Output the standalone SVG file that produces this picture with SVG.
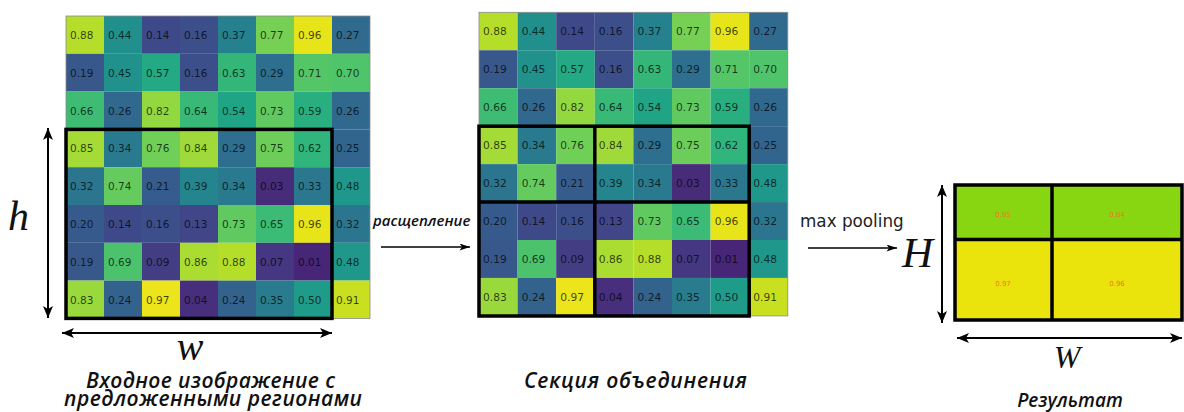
<svg xmlns="http://www.w3.org/2000/svg" xmlns:xlink="http://www.w3.org/1999/xlink" width="1184" height="412" viewBox="0 0 1184 412">
  <style>
    .cell text { font-family: "DejaVu Sans", sans-serif; font-size: 10.5px; fill: #000; fill-opacity: 0.72; }
    .frame { fill: none; stroke: #8a8a8a; stroke-width: 0.8; }
    .roi { fill: none; stroke: #000; stroke-width: 3.5; }
    .dim { stroke: #000; stroke-width: 2; fill: none; }
    .flow { stroke: #000; stroke-width: 1.6; fill: none; }
    .math { font-family: "Liberation Serif", "DejaVu Serif", serif; font-style: italic; fill: #111; }
    .caption { font-family: "Open Sans", "DejaVu Sans", sans-serif; font-style: italic; font-weight: 600; font-size: 21px; fill: #111; }
    .step { font-family: "Open Sans", "DejaVu Sans", sans-serif; font-style: italic; font-weight: 600; font-size: 15px; fill: #111; }
    .op { font-family: "DejaVu Sans", sans-serif; font-size: 16.8px; fill: #222; }
    .val { font-family: "DejaVu Sans", sans-serif; font-size: 7px; fill: #f07818; text-anchor: middle; }
    .v01{fill:#482677}.v03{fill:#472c7a}.v04{fill:#472f7d}.v07{fill:#453781}.v09{fill:#433d84}
    .v13{fill:#404688}.v14{fill:#3e4989}.v16{fill:#3c4f8a}.v19{fill:#38588c}.v20{fill:#375a8c}
    .v21{fill:#365c8d}.v24{fill:#33638d}.v25{fill:#32658e}.v26{fill:#31688e}.v27{fill:#306a8e}
    .v29{fill:#2e6e8e}.v32{fill:#2b758e}.v33{fill:#2a778e}.v34{fill:#297a8e}.v35{fill:#287c8e}
    .v37{fill:#26818e}.v39{fill:#25858e}.v44{fill:#21908d}.v45{fill:#21918c}.v48{fill:#1f988b}
    .v50{fill:#1f9c89}.v54{fill:#20a486}.v57{fill:#23a983}.v59{fill:#29af7f}.v62{fill:#30b57c}
    .v63{fill:#34b679}.v64{fill:#38b977}.v65{fill:#3bbb75}.v66{fill:#3fbc73}.v69{fill:#4cc26c}
    .v70{fill:#50c46a}.v71{fill:#55c667}.v73{fill:#60ca60}.v74{fill:#65cb5e}.v75{fill:#6ccd5a}
    .v76{fill:#70cf57}.v77{fill:#75d054}.v82{fill:#94d840}.v83{fill:#9ad93c}.v84{fill:#9fda3a}
    .v85{fill:#a5db36}.v86{fill:#aadc32}.v88{fill:#b5de2b}.v91{fill:#c8e020}.v96{fill:#e7e419}
    .v97{fill:#ece51b}
  </style>
  <defs>
    <marker id="head" viewBox="0 0 12 10" refX="12" refY="5" markerWidth="12" markerHeight="10" markerUnits="userSpaceOnUse" orient="auto-start-reverse">
      <path d="M0,0 L12,5 L0,10 L3,5 Z" fill="#000"/>
    </marker>
    <marker id="head-sm" viewBox="0 0 12 8" refX="12" refY="4" markerWidth="11" markerHeight="7" markerUnits="userSpaceOnUse" orient="auto">
      <path d="M0,0 L12,4 L0,8 L3,4 Z" fill="#000"/>
    </marker>
    <!-- 8x8 heat map, cell 38 x 37.8 -->
    <g id="heatmap" class="cell">
      <g>
        <rect class="v88" x="0" y="0" width="38" height="37.8"/><rect class="v44" x="38" y="0" width="38" height="37.8"/><rect class="v14" x="76" y="0" width="38" height="37.8"/><rect class="v16" x="114" y="0" width="38" height="37.8"/><rect class="v37" x="152" y="0" width="38" height="37.8"/><rect class="v77" x="190" y="0" width="38" height="37.8"/><rect class="v96" x="228" y="0" width="38" height="37.8"/><rect class="v27" x="266" y="0" width="38" height="37.8"/>
        <rect class="v19" x="0" y="37.8" width="38" height="37.8"/><rect class="v45" x="38" y="37.8" width="38" height="37.8"/><rect class="v57" x="76" y="37.8" width="38" height="37.8"/><rect class="v16" x="114" y="37.8" width="38" height="37.8"/><rect class="v63" x="152" y="37.8" width="38" height="37.8"/><rect class="v29" x="190" y="37.8" width="38" height="37.8"/><rect class="v71" x="228" y="37.8" width="38" height="37.8"/><rect class="v70" x="266" y="37.8" width="38" height="37.8"/>
        <rect class="v66" x="0" y="75.6" width="38" height="37.8"/><rect class="v26" x="38" y="75.6" width="38" height="37.8"/><rect class="v82" x="76" y="75.6" width="38" height="37.8"/><rect class="v64" x="114" y="75.6" width="38" height="37.8"/><rect class="v54" x="152" y="75.6" width="38" height="37.8"/><rect class="v73" x="190" y="75.6" width="38" height="37.8"/><rect class="v59" x="228" y="75.6" width="38" height="37.8"/><rect class="v26" x="266" y="75.6" width="38" height="37.8"/>
        <rect class="v85" x="0" y="113.4" width="38" height="37.8"/><rect class="v34" x="38" y="113.4" width="38" height="37.8"/><rect class="v76" x="76" y="113.4" width="38" height="37.8"/><rect class="v84" x="114" y="113.4" width="38" height="37.8"/><rect class="v29" x="152" y="113.4" width="38" height="37.8"/><rect class="v75" x="190" y="113.4" width="38" height="37.8"/><rect class="v62" x="228" y="113.4" width="38" height="37.8"/><rect class="v25" x="266" y="113.4" width="38" height="37.8"/>
        <rect class="v32" x="0" y="151.2" width="38" height="37.8"/><rect class="v74" x="38" y="151.2" width="38" height="37.8"/><rect class="v21" x="76" y="151.2" width="38" height="37.8"/><rect class="v39" x="114" y="151.2" width="38" height="37.8"/><rect class="v34" x="152" y="151.2" width="38" height="37.8"/><rect class="v03" x="190" y="151.2" width="38" height="37.8"/><rect class="v33" x="228" y="151.2" width="38" height="37.8"/><rect class="v48" x="266" y="151.2" width="38" height="37.8"/>
        <rect class="v20" x="0" y="189" width="38" height="37.8"/><rect class="v14" x="38" y="189" width="38" height="37.8"/><rect class="v16" x="76" y="189" width="38" height="37.8"/><rect class="v13" x="114" y="189" width="38" height="37.8"/><rect class="v73" x="152" y="189" width="38" height="37.8"/><rect class="v65" x="190" y="189" width="38" height="37.8"/><rect class="v96" x="228" y="189" width="38" height="37.8"/><rect class="v32" x="266" y="189" width="38" height="37.8"/>
        <rect class="v19" x="0" y="226.8" width="38" height="37.8"/><rect class="v69" x="38" y="226.8" width="38" height="37.8"/><rect class="v09" x="76" y="226.8" width="38" height="37.8"/><rect class="v86" x="114" y="226.8" width="38" height="37.8"/><rect class="v88" x="152" y="226.8" width="38" height="37.8"/><rect class="v07" x="190" y="226.8" width="38" height="37.8"/><rect class="v01" x="228" y="226.8" width="38" height="37.8"/><rect class="v48" x="266" y="226.8" width="38" height="37.8"/>
        <rect class="v83" x="0" y="264.6" width="38" height="37.8"/><rect class="v24" x="38" y="264.6" width="38" height="37.8"/><rect class="v97" x="76" y="264.6" width="38" height="37.8"/><rect class="v04" x="114" y="264.6" width="38" height="37.8"/><rect class="v24" x="152" y="264.6" width="38" height="37.8"/><rect class="v35" x="190" y="264.6" width="38" height="37.8"/><rect class="v50" x="228" y="264.6" width="38" height="37.8"/><rect class="v91" x="266" y="264.6" width="38" height="37.8"/>
      </g>
      <g>
        <text x="4" y="23">0.88</text><text x="42" y="23">0.44</text><text x="80" y="23">0.14</text><text x="118" y="23">0.16</text><text x="156" y="23">0.37</text><text x="194" y="23">0.77</text><text x="232" y="23">0.96</text><text x="270" y="23">0.27</text>
        <text x="4" y="60.8">0.19</text><text x="42" y="60.8">0.45</text><text x="80" y="60.8">0.57</text><text x="118" y="60.8">0.16</text><text x="156" y="60.8">0.63</text><text x="194" y="60.8">0.29</text><text x="232" y="60.8">0.71</text><text x="270" y="60.8">0.70</text>
        <text x="4" y="98.6">0.66</text><text x="42" y="98.6">0.26</text><text x="80" y="98.6">0.82</text><text x="118" y="98.6">0.64</text><text x="156" y="98.6">0.54</text><text x="194" y="98.6">0.73</text><text x="232" y="98.6">0.59</text><text x="270" y="98.6">0.26</text>
        <text x="4" y="136.4">0.85</text><text x="42" y="136.4">0.34</text><text x="80" y="136.4">0.76</text><text x="118" y="136.4">0.84</text><text x="156" y="136.4">0.29</text><text x="194" y="136.4">0.75</text><text x="232" y="136.4">0.62</text><text x="270" y="136.4">0.25</text>
        <text x="4" y="174.2">0.32</text><text x="42" y="174.2">0.74</text><text x="80" y="174.2">0.21</text><text x="118" y="174.2">0.39</text><text x="156" y="174.2">0.34</text><text x="194" y="174.2">0.03</text><text x="232" y="174.2">0.33</text><text x="270" y="174.2">0.48</text>
        <text x="4" y="212">0.20</text><text x="42" y="212">0.14</text><text x="80" y="212">0.16</text><text x="118" y="212">0.13</text><text x="156" y="212">0.73</text><text x="194" y="212">0.65</text><text x="232" y="212">0.96</text><text x="270" y="212">0.32</text>
        <text x="4" y="249.8">0.19</text><text x="42" y="249.8">0.69</text><text x="80" y="249.8">0.09</text><text x="118" y="249.8">0.86</text><text x="156" y="249.8">0.88</text><text x="194" y="249.8">0.07</text><text x="232" y="249.8">0.01</text><text x="270" y="249.8">0.48</text>
        <text x="4" y="287.6">0.83</text><text x="42" y="287.6">0.24</text><text x="80" y="287.6">0.97</text><text x="118" y="287.6">0.04</text><text x="156" y="287.6">0.24</text><text x="194" y="287.6">0.35</text><text x="232" y="287.6">0.50</text><text x="270" y="287.6">0.91</text>
      </g>
      <rect class="frame" x="0" y="0" width="304" height="302.4"/>
    </g>
  </defs>

  <!-- input feature map with the proposed region -->
  <g id="input-map">
    <use xlink:href="#heatmap" href="#heatmap" transform="translate(66,16)"/>
    <rect class="roi" x="66" y="129.4" width="266" height="189"/>
    <text class="caption" x="86" y="388" textLength="249" lengthAdjust="spacing">Входное изображение с</text>
    <text class="caption" x="64" y="406" textLength="298" lengthAdjust="spacing">предложенными регионами</text>
  </g>

  <!-- region split into 2x2 pooling sections -->
  <g id="pooling-sections">
    <use xlink:href="#heatmap" href="#heatmap" transform="translate(479,12.3) scale(1.0158,1.004)"/>
    <rect class="roi" x="479" y="126.2" width="270.2" height="189.8"/>
    <line class="roi" x1="594.8" y1="126.2" x2="594.8" y2="316"/>
    <line class="roi" x1="479" y1="202" x2="749.2" y2="202"/>
    <text class="caption" x="524" y="388" textLength="223" lengthAdjust="spacing">Секция объединения</text>
  </g>

  <!-- pooled 2x2 output -->
  <g id="output">
    <rect x="955" y="185" width="227" height="54.5" fill="#88d512"/>
    <rect x="955" y="239.5" width="227" height="80.5" fill="#ebe40c"/>
    <rect class="roi" x="955" y="185" width="227" height="135"/>
    <line class="roi" x1="1052" y1="185" x2="1052" y2="320"/>
    <line class="roi" x1="955" y1="239.5" x2="1182" y2="239.5"/>
    <text class="val" x="1003" y="216.5">0.85</text>
    <text class="val" x="1117" y="216.5">0.84</text>
    <text class="val" x="1003" y="285.5">0.97</text>
    <text class="val" x="1117" y="285.5">0.96</text>
    <text class="caption" x="1070" y="407" style="font-size:19px" text-anchor="middle">Результат</text>
  </g>

  <!-- dimension arrows and labels -->
  <g id="dimensions">
    <line class="dim" x1="48" y1="128" x2="48" y2="318" marker-start="url(#head)" marker-end="url(#head)"/>
    <line class="dim" x1="62" y1="333" x2="332" y2="333" marker-start="url(#head)" marker-end="url(#head)"/>
    <line class="dim" x1="942" y1="185" x2="942" y2="323" marker-start="url(#head)" marker-end="url(#head)"/>
    <line class="dim" x1="957" y1="338" x2="1182" y2="338" marker-start="url(#head)" marker-end="url(#head)"/>
    <text class="math" x="8" y="230" font-size="42">h</text>
    <text class="math" x="190" y="360" font-size="40" text-anchor="middle">w</text>
    <text class="math" x="902" y="267" font-size="43">H</text>
    <text class="math" x="1067" y="368" font-size="32" text-anchor="middle">W</text>
  </g>

  <!-- connectors between stages -->
  <g id="connectors">
    <line class="flow" x1="381" y1="247" x2="470" y2="247" marker-end="url(#head-sm)"/>
    <text class="step" x="373" y="226">расщепление</text>
    <line class="flow" x1="808" y1="248" x2="897" y2="248" marker-end="url(#head-sm)"/>
    <text class="op" x="800" y="227">max pooling</text>
  </g>
</svg>
